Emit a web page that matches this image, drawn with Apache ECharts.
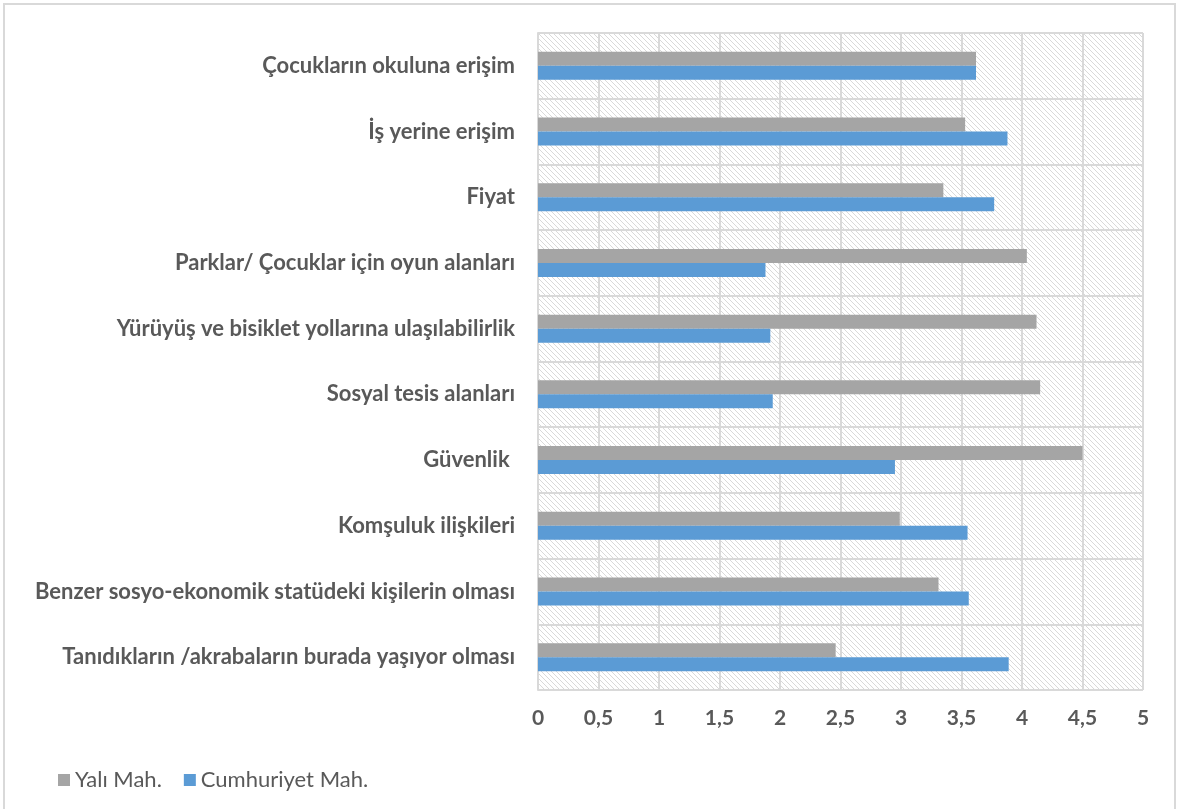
<!DOCTYPE html>
<html>
<head>
<meta charset="utf-8">
<script src="https://cdn.jsdelivr.net/npm/echarts@6/dist/echarts.min.js"></script>
<style>
html,body{margin:0;padding:0;background:#fff;}
#frame{position:absolute;left:3px;top:3px;width:1173px;height:810px;border:2px solid #d9d9d9;box-sizing:border-box;}
#chart{position:absolute;left:0;top:0;width:1178px;height:809px;}
</style>
</head>
<body>
<div id="frame"></div>
<div id="chart"></div>
<script>
const categories = [
  "Çocukların okuluna erişim",
  "İş yerine erişim",
  "Fiyat",
  "Parklar/ Çocuklar için oyun alanları",
  "Yürüyüş ve bisiklet yollarına ulaşılabilirlik",
  "Sosyal tesis alanları",
  "Güvenlik ",
  "Komşuluk ilişkileri",
  "Benzer sosyo-ekonomik statüdeki kişilerin olması",
  "Tanıdıkların /akrabaların burada yaşıyor olması"
];
const yaliMah = [3.62, 3.53, 3.35, 4.04, 4.12, 4.15, 4.50, 2.99, 3.31, 2.46];
const cumhuriyetMah = [3.62, 3.88, 3.77, 1.88, 1.92, 1.94, 2.95, 3.55, 3.56, 3.89];
const seriesNames = ["Yalı Mah.", "Cumhuriyet Mah."];
const xTicks = [0, 0.5, 1, 1.5, 2, 2.5, 3, 3.5, 4, 4.5, 5];

// hatch pattern
const pc = document.createElement('canvas');
pc.width = 5; pc.height = 5;
const ctx = pc.getContext('2d');
ctx.fillStyle = '#ffffff';
ctx.fillRect(0,0,5,5);
ctx.fillStyle = '#d9d9d9';
for (let i = 0; i < 5; i++) { ctx.fillRect(i, i, 1, 1); }

const chart = echarts.init(document.getElementById('chart'), null, {renderer:'canvas'});
chart.setOption({
  animation: false,
  backgroundColor: 'transparent',
  textStyle: {fontFamily: 'Lato'},
  grid: {
    left: 538, right: 35, top: 33, bottom: 119,
    show: true,
    backgroundColor: {image: pc, repeat: 'repeat'},
    borderWidth: 0
  },
  legend: {
    left: 53, top: 764,
    itemWidth: 12, itemHeight: 12, itemGap: 22,
    icon: 'rect',
    textStyle: {fontFamily: 'Lato', fontSize: 22, color: '#595959'},
    data: seriesNames
  },
  xAxis: {
    type: 'value', min: 0, max: 5, interval: 0.5,
    axisLine: {show: false}, axisTick: {show: false},
    splitLine: {show: true, lineStyle: {color: '#d9d9d9', width: 2}},
    axisLabel: {
      margin: 18, fontSize: 21, fontWeight: 'bold', color: '#595959', fontFamily: 'Lato',
      formatter: v => String(xTicks[Math.round(v * 2)]).replace('.', ',')
    }
  },
  yAxis: {
    type: 'category', inverse: true, data: categories,
    axisLine: {show: true, lineStyle: {color: '#d9d9d9', width: 2}},
    axisTick: {show: false},
    splitLine: {show: true, lineStyle: {color: '#d9d9d9', width: 2}},
    axisLabel: {margin: 23, fontSize: 22, fontWeight: 'bold', color: '#595959', fontFamily: 'Lato'}
  },
  series: [
    {name: seriesNames[0], type: 'bar', data: yaliMah, barWidth: 14, barGap: '0%', itemStyle: {color: '#a5a5a5'}},
    {name: seriesNames[1], type: 'bar', data: cumhuriyetMah, barWidth: 14, barGap: '0%', itemStyle: {color: '#5b9bd5'}}
  ]
});
</script>
</body>
</html>
